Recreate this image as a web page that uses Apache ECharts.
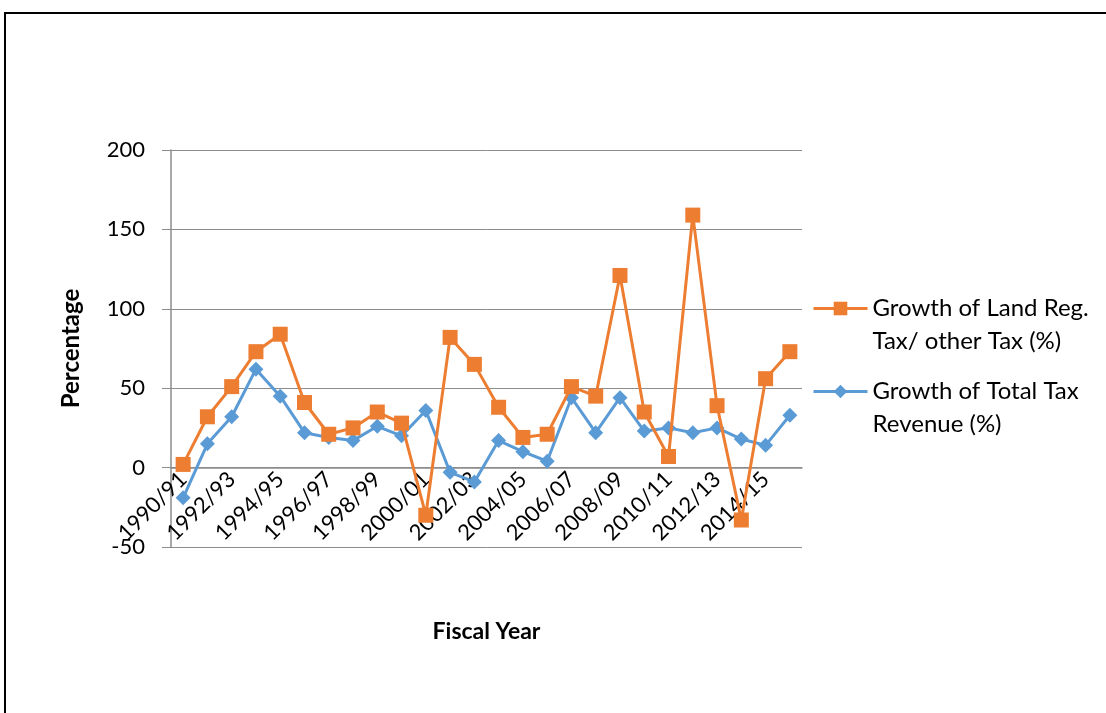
<!DOCTYPE html>
<html>
<head>
<meta charset="utf-8">
<script src="https://cdn.jsdelivr.net/npm/echarts@6/dist/echarts.min.js"></script>
<style>
  html, body { margin: 0; padding: 0; background: #ffffff; }
  #chart { width: 1106px; height: 713px; }
</style>
</head>
<body>
<div id="chart"></div>
<script>
// Fiscal years 1990/91 .. 2015/16
const years = [
  '1990/91','1991/92','1992/93','1993/94','1994/95','1995/96','1996/97',
  '1997/98','1998/99','1999/00','2000/01','2001/02','2002/03','2003/04',
  '2004/05','2005/06','2006/07','2007/08','2008/09','2009/10','2010/11',
  '2011/12','2012/13','2013/14','2014/15','2015/16'
];

// Growth of land registration tax / other tax (%)
const landRegGrowth = [
  2, 32, 51, 73, 84, 41, 21, 25, 35, 28, -30, 82, 65, 38,
  19, 21, 51, 45, 121, 35, 7, 159, 39, -33, 56, 73
];

// Growth of total tax revenue (%)
const totalTaxGrowth = [
  -19, 15, 32, 62, 45, 22, 19, 17, 26, 20, 36, -3, -9, 17,
  10, 4, 44, 22, 44, 23, 25, 22, 25, 18, 14, 33
];

const seriesNames = [
  'Growth of Land Reg. Tax/ other Tax (%)',
  'Growth of Total Tax Revenue (%)'
];
// Legend text is wrapped onto two lines; a blank first line keeps the
// marker level with the first line of text.
const legendLines = {
  'Growth of Land Reg. Tax/ other Tax (%)': ' \nGrowth of Land Reg.\nTax/ other Tax (%)',
  'Growth of Total Tax Revenue (%)': ' \nGrowth of Total Tax\nRevenue (%)'
};

const yTicks = { min: -50, max: 200, interval: 50 };

const FONT = 'Lato, "Open Sans", sans-serif';
const ORANGE = '#ED7D31';
const BLUE = '#5B9BD5';
const GRID = '#8c8c8c';

// plot box
const PLOT = { left: 171, top: 150, width: 631, height: 397 };
// the category axis crosses the value axis at 0
const zeroOffset = PLOT.height * (0 - yTicks.min) / (yTicks.max - yTicks.min);

const chart = echarts.init(document.getElementById('chart'), null, { renderer: 'canvas' });

function legendFor(name, top) {
  return {
    data: [name],
    left: 812,
    top: top,
    orient: 'vertical',
    padding: 0,
    itemWidth: 54,
    itemHeight: 17,
    selectedMode: false,
    lineStyle: { width: 3 },
    formatter: n => legendLines[n],
    textStyle: {
      fontFamily: FONT,
      fontSize: 24,
      color: '#000',
      lineHeight: 33
    }
  };
}

chart.setOption({
  backgroundColor: '#ffffff',
  animation: false,
  textStyle: { fontFamily: FONT },
  graphic: [{
    type: 'rect',
    shape: { x: 5, y: 13, width: 1300, height: 900 },
    style: { fill: null, stroke: '#000', lineWidth: 2 },
    silent: true
  }],
  legend: [
    legendFor(seriesNames[0], 259),
    legendFor(seriesNames[1], 342)
  ],
  grid: {
    left: PLOT.left, top: PLOT.top, width: PLOT.width, height: PLOT.height,
    containLabel: false, outerBoundsMode: 'none'
  },
  xAxis: {
    type: 'category',
    data: years,
    boundaryGap: true,
    position: 'bottom',
    offset: -zeroOffset,
    name: 'Fiscal Year',
    nameLocation: 'middle',
    nameGap: 152,
    nameTextStyle: { fontFamily: FONT, fontSize: 23, fontWeight: 'bold', color: '#000', verticalAlign: 'top' },
    axisLine: { onZero: false, lineStyle: { color: GRID, width: 1.5 } },
    axisTick: { show: false },
    axisLabel: {
      interval: 1,
      rotate: 45,
      margin: 8,
      fontFamily: FONT,
      fontSize: 22,
      color: '#000'
    },
    splitLine: { show: false }
  },
  yAxis: {
    type: 'value',
    min: yTicks.min,
    max: yTicks.max,
    interval: yTicks.interval,
    name: 'Percentage',
    nameLocation: 'middle',
    nameGap: 88,
    nameTextStyle: { fontFamily: FONT, fontSize: 24, fontWeight: 'bold', color: '#000' },
    axisLine: { show: true, lineStyle: { color: GRID, width: 1.5 } },
    axisTick: { show: true, length: 9, lineStyle: { color: GRID } },
    axisLabel: { margin: 26, fontFamily: FONT, fontSize: 22, color: '#000' },
    splitLine: { show: true, lineStyle: { color: GRID, width: 1 } }
  },
  series: [
    {
      name: seriesNames[0],
      type: 'line',
      data: landRegGrowth,
      z: 3,
      symbol: 'rect',
      symbolSize: 15,
      showAllSymbol: true,
      lineStyle: { color: ORANGE, width: 3 },
      itemStyle: { color: ORANGE }
    },
    {
      name: seriesNames[1],
      type: 'line',
      data: totalTaxGrowth,
      z: 2,
      symbol: 'diamond',
      symbolSize: 15,
      showAllSymbol: true,
      lineStyle: { color: BLUE, width: 3 },
      itemStyle: { color: BLUE }
    }
  ]
});
</script>
</body>
</html>
